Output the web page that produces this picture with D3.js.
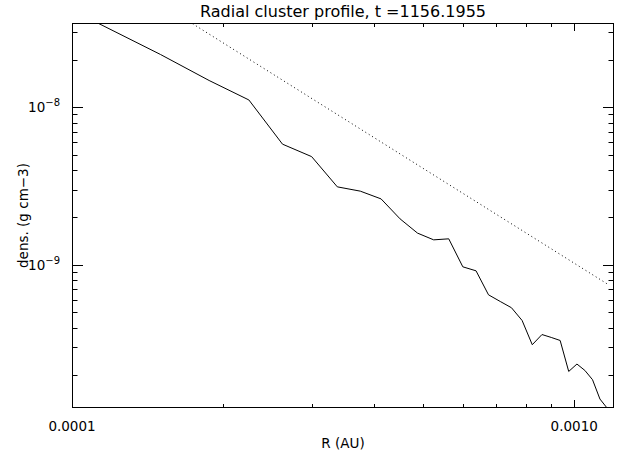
<!DOCTYPE html>
<html><head><meta charset="utf-8">
<script src="https://cdn.jsdelivr.net/npm/d3@7"></script>
<style>body{margin:0;background:#fff}svg{display:block}text{font-family:"DejaVu Sans",sans-serif;fill:#000}</style>
</head><body><svg id="c" width="618" height="452"></svg>
<script>
const titleText = "Radial cluster profile, t =1156.1955";
const xTitle = "R (AU)";
const yTitle = "dens. (g cm\u22123)";
const radius = [1.125e-4,1.5e-4,1.875e-4,2.25e-4,2.625e-4,3.0e-4,3.375e-4,3.75e-4,4.125e-4,4.5e-4,4.875e-4,5.25e-4,5.625e-4,6.0e-4,6.375e-4,6.75e-4,7.125e-4,7.5e-4,7.875e-4,8.25e-4,8.625e-4,9.0e-4,9.375e-4,9.75e-4,1.0125e-3,1.05e-3,1.0875e-3,1.125e-3,1.1625e-3];
const density = [3.424e-8,2.162e-8,1.478e-8,1.112e-8,5.83e-9,4.86e-9,3.124e-9,2.934e-9,2.62e-9,1.957e-9,1.589e-9,1.44e-9,1.462e-9,9.71e-10,9.16e-10,6.45e-10,5.85e-10,5.34e-10,4.43e-10,3.11e-10,3.61e-10,3.46e-10,3.31e-10,2.105e-10,2.346e-10,2.136e-10,1.866e-10,1.407e-10,1.234e-10];
const refRadius = [1.125e-4,1.1625e-3];
const refDensity = [8.09e-8,7.574e-10];
const xRange = [1e-4,1.2e-3];
const yRange = [1.234e-10,3.424e-8];
const xMajorTicks = [1e-4,1e-3];
const xTickLabels = ["0.0001","0.0010"];
const xMinorTicks = [2e-4,3e-4,4e-4,5e-4,6e-4,7e-4,8e-4,9e-4];
const yMajorTicks = [1e-9,1e-8];
const yTickExponents = ["\u22129","\u22128"];
const yMinorTicks = [2e-10,3e-10,4e-10,5e-10,6e-10,7e-10,8e-10,9e-10,2e-9,3e-9,4e-9,5e-9,6e-9,7e-9,8e-9,9e-9,2e-8,3e-8];

const L=72,R=614,T=23,B=408;
const svg=d3.select("#c");
const x=d3.scaleLog().domain(xRange).range([L,R]);
const y=d3.scaleLog().domain(yRange).range([B,T]);

svg.append("defs").append("clipPath").attr("id","clip").append("rect")
  .attr("x",L).attr("y",T).attr("width",R-L).attr("height",B-T);

const line=d3.line().x(d=>x(d[0])).y(d=>y(d[1]));
svg.append("path").datum(radius.map((r,i)=>[r,density[i]]))
  .attr("d",line).attr("fill","none").attr("stroke","#000").attr("stroke-width",1)
  .attr("clip-path","url(#clip)");
svg.append("path").datum(refRadius.map((r,i)=>[r,refDensity[i]]))
  .attr("d",line).attr("fill","none").attr("stroke","#000").attr("stroke-width",1)
  .attr("stroke-dasharray","1,3").attr("clip-path","url(#clip)");

// frame
svg.append("rect").attr("x",L+0.5).attr("y",T+0.5).attr("width",R-L-1).attr("height",B-T-1)
  .attr("fill","none").attr("stroke","#000").attr("stroke-width",1);

const g=svg.append("g").attr("stroke","#000").attr("stroke-width",1);
function xt(v,len){const px=Math.round(x(v))+0.5;
  g.append("line").attr("x1",px).attr("x2",px).attr("y1",B).attr("y2",B-len);
  g.append("line").attr("x1",px).attr("x2",px).attr("y1",T).attr("y2",T+len);}
function yt(v,len){const py=Math.round(y(v))+0.5;
  g.append("line").attr("y1",py).attr("y2",py).attr("x1",L).attr("x2",L+len);
  g.append("line").attr("y1",py).attr("y2",py).attr("x1",R).attr("x2",R-len);}
xMajorTicks.forEach(v=>xt(v,8));
xMinorTicks.forEach(v=>xt(v,4));
yMajorTicks.forEach(v=>yt(v,11));
yMinorTicks.forEach(v=>yt(v,5.5));

xMajorTicks.forEach((v,i)=>{
  svg.append("text").attr("x",x(v)).attr("y",431).attr("text-anchor","middle")
    .attr("font-size",13.5).text(xTickLabels[i]);
});
yMajorTicks.forEach((v,i)=>{
  const t=svg.append("text").attr("x",60).attr("y",y(v)+5).attr("text-anchor","end").attr("font-size",13.5);
  t.append("tspan").text("10");
  t.append("tspan").attr("dy",-6).attr("font-size",10).text(yTickExponents[i]);
});

svg.append("text").attr("x",(L+R)/2).attr("y",17).attr("text-anchor","middle").attr("font-size",16).text(titleText);
svg.append("text").attr("x",(L+R)/2).attr("y",448).attr("text-anchor","middle").attr("font-size",13.5).text(xTitle);
svg.append("text").attr("transform",`translate(28,${(T+B)/2}) rotate(-90)`).attr("text-anchor","middle").attr("font-size",13.5).text(yTitle);
</script></body></html>
